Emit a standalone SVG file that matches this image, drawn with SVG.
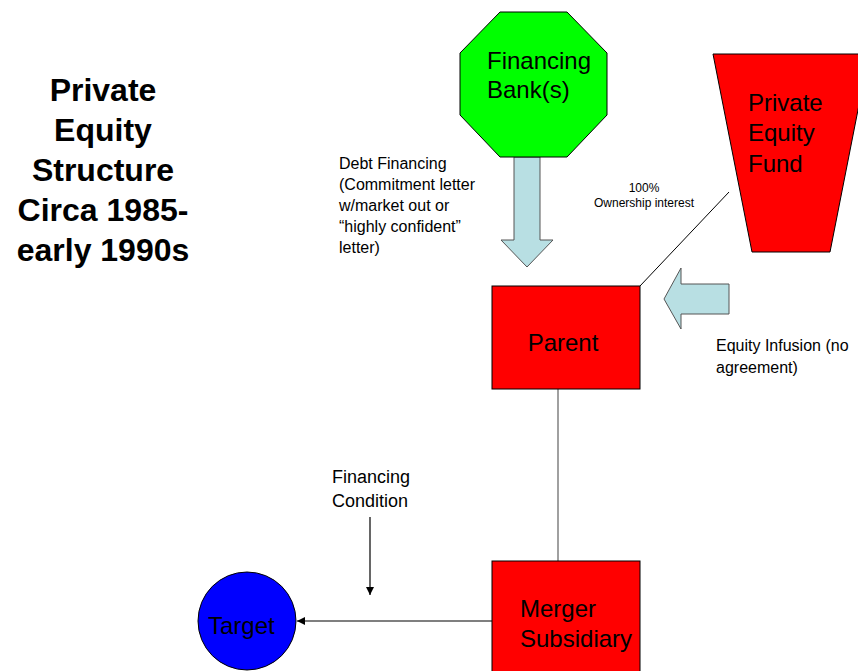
<svg xmlns="http://www.w3.org/2000/svg" width="858" height="671" viewBox="0 0 858 671">
<defs>
<style>
text{font-family:"Liberation Sans",Arial,sans-serif;fill:#000}
.title{font-size:32px;font-weight:bold;text-anchor:middle}
.big{font-size:24px}
.mid{font-size:16px}
.note{font-size:18px}
.small{font-size:12px;text-anchor:middle}
.shape{stroke:#000;stroke-width:1}
.barrow{fill:#B8DFE3;stroke:#555;stroke-width:1}
</style>
<marker id="ah" viewBox="0 0 10 10" refX="10" refY="5" markerWidth="8" markerHeight="8" markerUnits="userSpaceOnUse" orient="auto">
<path d="M0,0 L10,5 L0,10 z" fill="#000"/>
</marker>
</defs>
<rect width="858" height="671" fill="#fff"/>

<g id="title">
<text class="title" x="103" y="101">Private</text>
<text class="title" x="103" y="141">Equity</text>
<text class="title" x="103" y="181">Structure</text>
<text class="title" x="103" y="221">Circa 1985-</text>
<text class="title" x="103" y="261">early 1990s</text>
</g>

<g id="connectors">
<line x1="640" y1="286" x2="729" y2="192" stroke="#000" stroke-width="1"/>
<line x1="558" y1="389" x2="558" y2="561" stroke="#808080" stroke-width="1.5"/>
<line x1="492" y1="621" x2="297" y2="621" stroke="#000" stroke-width="1.2" marker-end="url(#ah)"/>
<line x1="370" y1="517" x2="370" y2="595" stroke="#000" stroke-width="1.2" marker-end="url(#ah)"/>
<polygon class="barrow" points="514,157 540,157 540,240 553,240 527,267 501,240 514,240"/>
<polygon class="barrow" points="664,299 681,268 681,284 729,284 729,314 681,314 681,329"/>
</g>

<g id="bank">
<polygon class="shape" fill="#00FF00" points="500,12 567,12 607,53 607,115 567,157 500,157 460,115 460,53"/>
<text class="big" x="487" y="69">Financing</text>
<text class="big" x="487" y="98">Bank(s)</text>
</g>

<g id="fund">
<polygon class="shape" fill="#FF0000" points="713,54 869,54 830,252 752,252"/>
<text class="big" x="748" y="111">Private</text>
<text class="big" x="748" y="141">Equity</text>
<text class="big" x="748" y="172">Fund</text>
</g>

<g id="parent">
<rect class="shape" fill="#FF0000" x="492" y="286" width="148" height="103"/>
<text class="big" x="563" y="351" text-anchor="middle">Parent</text>
</g>

<g id="merger">
<rect class="shape" fill="#FF0000" x="492" y="561" width="148" height="120"/>
<text class="big" x="520" y="617">Merger</text>
<text class="big" x="520" y="647">Subsidiary</text>
</g>

<g id="target">
<circle class="shape" fill="#0000FF" cx="247" cy="621" r="49"/>
<text class="big" x="208" y="634">Target</text>
</g>

<g id="labels">
<text class="mid" x="339" y="169">Debt Financing</text>
<text class="mid" x="339" y="190">(Commitment letter</text>
<text class="mid" x="339" y="211">w/market out or</text>
<text class="mid" x="339" y="232">“highly confident”</text>
<text class="mid" x="339" y="253">letter)</text>
<text class="small" x="644" y="192">100%</text>
<text class="small" x="644" y="207">Ownership interest</text>
<text class="mid" x="716" y="351">Equity Infusion (no</text>
<text class="mid" x="716" y="373">agreement)</text>
<text class="note" x="332" y="483">Financing</text>
<text class="note" x="332" y="507">Condition</text>
</g>
</svg>
